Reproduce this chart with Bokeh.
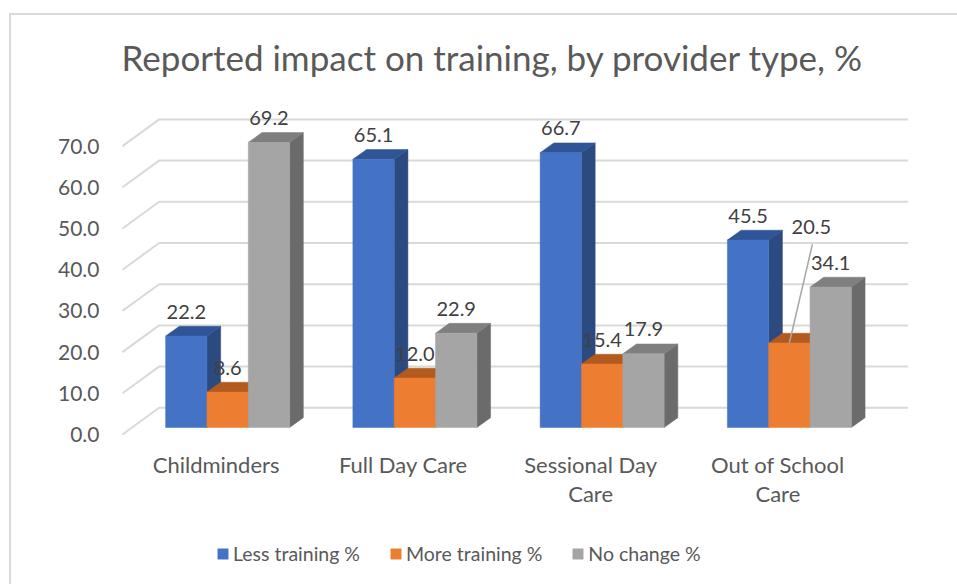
from bokeh.plotting import figure
from bokeh.models import (Range1d, FixedTicker, NumeralTickFormatter, Legend, LegendItem)
from bokeh.core.properties import value
from bokeh.embed import file_html
from bokeh.resources import INLINE

# ---------------- data ----------------
categories = ["Childminders", "Full Day Care", "Sessional Day Care", "Out of School Care"]
category_labels = ["Childminders", "Full Day Care", "Sessional Day\nCare", "Out of School\nCare"]
series_names = ["Less training %", "More training %", "No change %"]
less_training = [22.2, 65.1, 66.7, 45.5]
more_training = [8.6, 12.0, 15.4, 20.5]
no_change = [69.2, 22.9, 17.9, 34.1]
y_ticks = [0, 10, 20, 30, 40, 50, 60, 70]
title_text = "Reported impact on training, by provider type, %"

series = [less_training, more_training, no_change]

# ---------------- styles ----------------
FONT = "Lato"
front_colors = ["#4472C4", "#ED7D31", "#A5A5A5"]
top_colors = ["#2F5597", "#B35A1F", "#7F7F7F"]
side_colors = ["#2A4A80", "#A9531C", "#6B6B6B"]
text_grey = "#595959"
label_grey = "#404040"
grid_grey = "#d9d9d9"

# pixel scale of the plot frame
PX_X = 187.25   # px per category
PX_Y = 4.12     # px per value unit

# 3D oblique offsets (converted from px to data units)
wall_dx, wall_dy = 36.6 / PX_X, 26.7 / PX_Y
bar_shift = 11.5 / PX_X
bar_base = 7.0 / PX_Y
bar_w = 41.33 / PX_X
ddx, ddy = 13.7 / PX_X, 9.8 / PX_Y
label_gap = 14.5 / PX_Y
# label nudges in px (series index, category index) -> (dx, dy_up)
label_nudge = {(1, 3): (22.0, 91.6)}

W, H = 957, 584
ML, MR, MT, MB = 118, 47, 105, 0
fw, fh = W - ML - MR, H - MT - MB
x0 = -0.5 - 4 / PX_X
y_top = 329 / PX_Y            # frame top sits 329 px above the floor line
y0 = y_top - fh / PX_Y

p = figure(width=W, height=H, output_backend="svg", toolbar_location=None,
           x_range=Range1d(x0, x0 + fw / PX_X), y_range=Range1d(y0, y_top),
           min_border_left=ML, min_border_right=MR, min_border_top=MT, min_border_bottom=MB)
p.grid.visible = False
p.outline_line_color = None
p.background_fill_alpha = 0
p.border_fill_alpha = 0
# outer chart border: top and left edges
p.styles = {
    "background": ("linear-gradient(#d9d9d9,#d9d9d9) 9px 13px / 948px 2px no-repeat, "
                   "linear-gradient(#d9d9d9,#d9d9d9) 9px 13px / 2px 571px no-repeat, white"),
}

# title
p.title.text = title_text
p.title.text_font = FONT
p.title.text_font_size = "35px"
p.title.text_font_style = "normal"
p.title.text_color = text_grey
p.title.align = "left"
p.title.offset = 3
p.title.standoff = 55

# y axis
yax = p.yaxis[0]
yax.ticker = FixedTicker(ticks=y_ticks)
yax.formatter = NumeralTickFormatter(format="0.0")
yax.axis_line_color = None
yax.major_tick_line_color = None
yax.minor_tick_line_color = None
yax.major_tick_out = 0
yax.major_tick_in = 0
yax.major_label_standoff = 19
yax.major_label_text_font = FONT
yax.major_label_text_font_size = "21px"
yax.major_label_text_color = text_grey

# x axis (fixed at the floor line)
xax = p.xaxis[0]
xax.fixed_location = 0
xax.ticker = FixedTicker(ticks=list(range(len(categories))))
xax.major_label_overrides = {i: lab for i, lab in enumerate(category_labels)}
xax.axis_line_color = None
xax.major_tick_line_color = None
xax.minor_tick_line_color = None
xax.major_tick_out = 0
xax.major_tick_in = 0
xax.major_label_standoff = 16
xax.major_label_text_font = FONT
xax.major_label_text_font_size = "22px"
xax.major_label_text_color = text_grey
xax.major_label_text_line_height = 1.1

# back wall + floor-edge gridlines
n = len(categories)
gx, gy = [], []
for v in y_ticks:
    gx.append([-0.5, -0.5 + wall_dx, n - 0.5 + wall_dx])
    gy.append([v, v + wall_dy, v + wall_dy])
p.multi_line(gx, gy, line_color=grid_grey, line_width=2)

# 3D bars
legend_items = []
for s, vals in enumerate(series):
    xc = [i + bar_shift + (s - 1) * bar_w for i in range(n)]
    left = [c - bar_w / 2 for c in xc]
    right = [c + bar_w / 2 for c in xc]
    tops = [bar_base + v for v in vals]
    side_xs = [[r, r + ddx, r + ddx, r] for r in right]
    side_ys = [[bar_base, bar_base + ddy, t + ddy, t] for t in tops]
    p.patches(side_xs, side_ys, fill_color=side_colors[s], line_color=side_colors[s], line_width=0.5)
    top_xs = [[l, l + ddx, r + ddx, r] for l, r in zip(left, right)]
    top_ys = [[t, t + ddy, t + ddy, t] for t in tops]
    p.patches(top_xs, top_ys, fill_color=top_colors[s], line_color=top_colors[s], line_width=0.5)
    fr = p.quad(left=left, right=right, bottom=[bar_base] * n, top=tops,
                fill_color=front_colors[s], line_color=front_colors[s], line_width=0.5)
    legend_items.append(LegendItem(label=series_names[s], renderers=[fr]))

    lx, ly = [], []
    for i, v in enumerate(vals):
        ndx, ndy = label_nudge.get((s, i), (0.0, 0.0))
        tx = xc[i] + ndx / PX_X
        ty = tops[i] + ddy + label_gap + ndy / PX_Y
        lx.append(tx)
        ly.append(ty)
        if (s, i) in label_nudge:
            p.segment(x0=[xc[i]], y0=[tops[i]], x1=[tx + 1 / PX_X], y1=[ty - 17.3 / PX_Y],
                      line_color="#A6A6A6", line_width=1.5)
    p.text(x=lx, y=ly, text=[f"{v:.1f}" for v in vals], text_font=value(FONT),
           text_font_size="20px", text_color=label_grey, text_align="center",
           text_baseline="middle")

legend = Legend(items=legend_items, orientation="horizontal", location=(98, 19),
                glyph_width=13, glyph_height=13, label_standoff=4, spacing=29,
                padding=0, margin=0, border_line_color=None, background_fill_alpha=0,
                label_text_font=FONT, label_text_font_size="19.5px", label_text_color=text_grey)
p.add_layout(legend, "center")

open("out.html", "w").write(file_html(p, INLINE))
